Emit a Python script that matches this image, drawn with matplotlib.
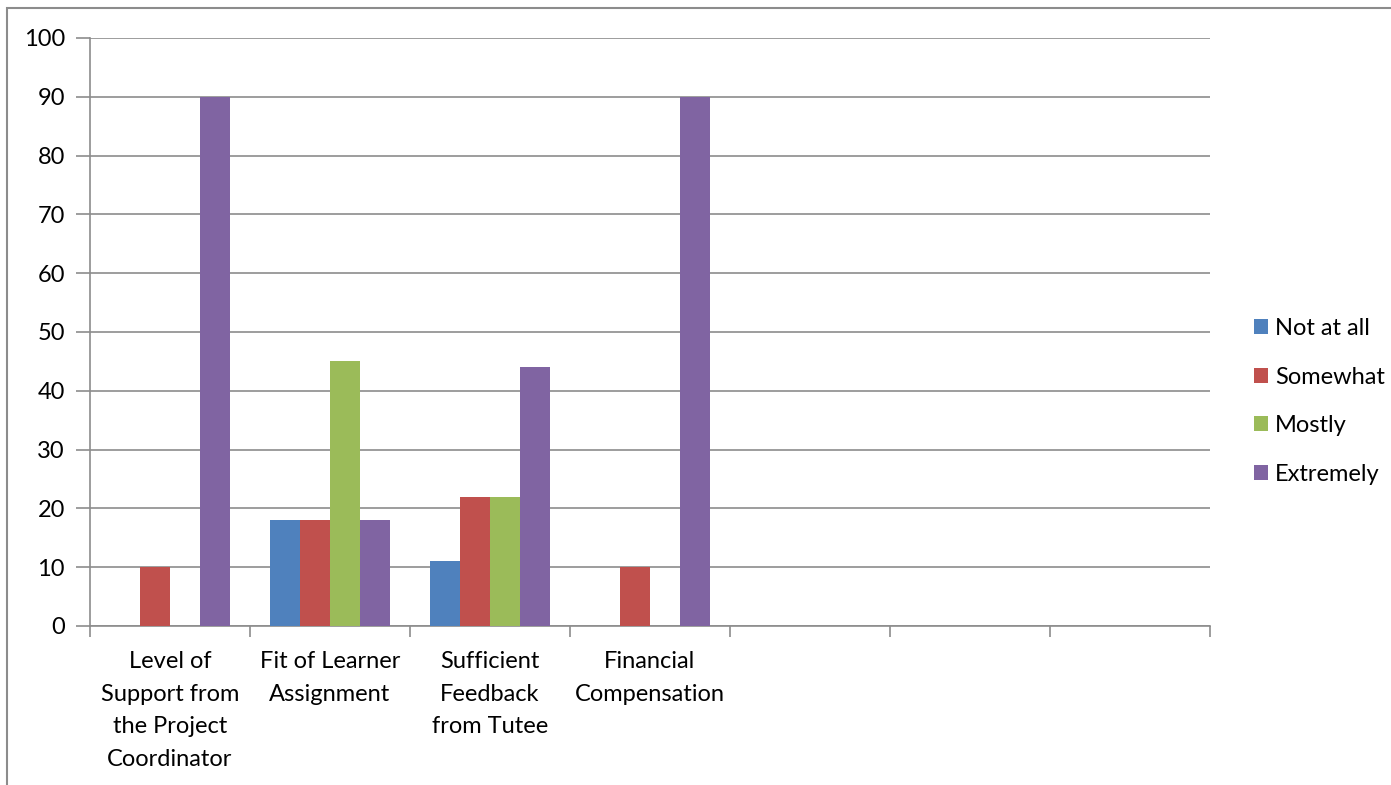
import matplotlib.pyplot as plt
from matplotlib.patches import Rectangle
import numpy as np

plt.rcParams['font.family'] = ['Lato', 'DejaVu Sans']

categories = [
    "Level of\nSupport from\nthe Project\nCoordinator",
    "Fit of Learner\nAssignment",
    "Sufficient\nFeedback\nfrom Tutee",
    "Financial\nCompensation",
    "", "", "",
]
series_names = ["Not at all", "Somewhat", "Mostly", "Extremely"]
not_at_all = [0, 18, 11, 0]
somewhat = [10, 18, 22, 10]
mostly = [0, 45, 22, 0]
extremely = [90, 18, 44, 90]
colors = ["#4F81BD", "#C0504D", "#9BBB59", "#8064A2"]

fig = plt.figure(figsize=(13.91, 7.85), dpi=100)
ax = fig.add_axes([90 / 1391, 159 / 785, 1120 / 1391, 588 / 785])

# outer chart frame
fig.patches.append(Rectangle((7 / 1391, -0.05), 1.1, (777 / 785) + 0.05,
                             transform=fig.transFigure, fill=False,
                             edgecolor="#8c8c8c", linewidth=1.5))

bar_w = 0.1875
x = np.arange(len(not_at_all))
for i, (vals, name) in enumerate(zip([not_at_all, somewhat, mostly, extremely], series_names)):
    ax.bar(x + (i - 1.5) * bar_w, vals, width=bar_w, color=colors[i],
           label=name, zorder=3, linewidth=0)

ax.set_xlim(-0.5, len(categories) - 0.5)
ax.set_ylim(0, 100)
ax.set_yticks(range(0, 101, 10))
ax.yaxis.grid(True, color="#8c8c8c", linewidth=1.2, zorder=0)

ax.set_xticks(np.arange(len(categories) + 1) - 0.5)
ax.set_xticklabels([])
ax.set_xticks(np.arange(len(categories)), minor=True)
ax.set_xticklabels(categories, minor=True, fontsize=17, linespacing=1.68)
ax.tick_params(axis="x", which="minor", length=0, pad=18)
ax.tick_params(axis="x", which="major", length=8, color="#8c8c8c", width=1.2)
ax.tick_params(axis="y", length=10, color="#8c8c8c", width=1.2, labelsize=17, pad=8)

for s in ["top", "right"]:
    ax.spines[s].set_visible(False)
for s in ["left", "bottom"]:
    ax.spines[s].set_color("#8c8c8c")
    ax.spines[s].set_linewidth(1.2)

leg = ax.legend(loc="center left", bbox_to_anchor=(1.039, 0.382), frameon=False,
                fontsize=17, handlelength=0.6, handleheight=0.6,
                handletextpad=0.3, labelspacing=1.17, borderpad=0,
                borderaxespad=0)

fig.savefig("out.png", dpi=100)
